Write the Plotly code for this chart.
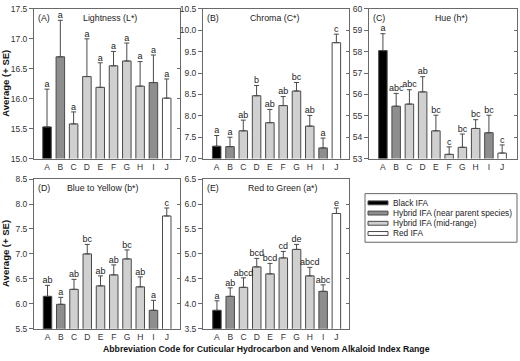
import plotly.graph_objects as go

categories = ["A", "B", "C", "D", "E", "F", "G", "H", "I", "J"]
group_of = ["Black IFA", "Hybrid IFA (near parent species)", "Hybrid IFA (mid-range)",
            "Hybrid IFA (mid-range)", "Hybrid IFA (mid-range)", "Hybrid IFA (mid-range)",
            "Hybrid IFA (mid-range)", "Hybrid IFA (mid-range)", "Hybrid IFA (near parent species)",
            "Red IFA"]
group_names = ["Black IFA", "Hybrid IFA (near parent species)", "Hybrid IFA (mid-range)", "Red IFA"]
group_colors = ["#000000", "#8e8e8e", "#d0d0d0", "#ffffff"]

lightness_mean = [15.53, 16.70, 15.58, 16.37, 16.19, 16.55, 16.63, 16.21, 16.27, 16.01]
lightness_se = [0.63, 0.61, 0.20, 0.63, 0.41, 0.24, 0.30, 0.41, 0.46, 0.32]
lightness_letters = ["a", "a", "a", "a", "a", "a", "a", "a", "a", "a"]

chroma_mean = [7.29, 7.28, 7.65, 8.47, 7.84, 8.24, 8.58, 7.76, 7.25, 9.71]
chroma_se = [0.25, 0.22, 0.25, 0.24, 0.31, 0.21, 0.20, 0.25, 0.23, 0.20]
chroma_letters = ["a", "a", "ab", "b", "ab", "ab", "bc", "ab", "a", "c"]

hue_mean = [58.05, 55.45, 55.55, 56.12, 54.30, 53.20, 53.53, 54.41, 54.21, 53.26]
hue_se = [0.79, 0.60, 0.67, 0.71, 0.73, 0.35, 0.62, 0.41, 0.82, 0.38]
hue_letters = ["a", "abc", "abc", "ab", "bc", "c", "bc", "bc", "bc", "c"]

b_mean = [6.15, 5.99, 6.29, 7.00, 6.36, 6.58, 6.90, 6.34, 5.87, 7.76]
b_se = [0.22, 0.14, 0.20, 0.19, 0.20, 0.20, 0.18, 0.20, 0.20, 0.16]
b_letters = ["ab", "a", "ab", "bc", "ab", "ab", "bc", "ab", "a", "c"]

a_mean = [3.87, 4.15, 4.33, 4.74, 4.60, 4.92, 5.09, 4.56, 4.25, 5.81]
a_se = [0.19, 0.17, 0.19, 0.17, 0.21, 0.13, 0.10, 0.17, 0.13, 0.11]
a_letters = ["a", "ab", "abcd", "bcd", "bcd", "cd", "de", "abcd", "abc", "e"]

panels = [
    dict(tag="(A)", title="Lightness (L*)", mean=lightness_mean, se=lightness_se, letters=lightness_letters,
         yrange=[15.0, 17.5], dtick=0.5, fmt=".1f", xd=[34, 180], yd=[4, 158], tx=0.52, xr=[-0.98, 10.0]),
    dict(tag="(B)", title="Chroma (C*)", mean=chroma_mean, se=chroma_se, letters=chroma_letters,
         yrange=[7.0, 10.5], dtick=0.5, fmt=".1f", xd=[203, 349], yd=[4, 158], tx=0.49, xr=[-1.03, 9.95]),
    dict(tag="(C)", title="Hue (h*)", mean=hue_mean, se=hue_se, letters=hue_letters,
         yrange=[53, 60], dtick=1, fmt="d", xd=[369, 517], yd=[4, 158], tx=0.56, xr=[-1.05, 10.12]),
    dict(tag="(D)", title="Blue to Yellow (b*)", mean=b_mean, se=b_se, letters=b_letters,
         yrange=[5.5, 8.5], dtick=0.5, fmt=".1f", xd=[34, 180], yd=[179, 333], tx=0.47, xr=[-1.02, 10.0]),
    dict(tag="(E)", title="Red to Green (a*)", mean=a_mean, se=a_se, letters=a_letters,
         yrange=[3.5, 6.5], dtick=0.5, fmt=".1f", xd=[203, 349], yd=[179, 333], tx=0.55, xr=[-1.05, 9.95]),
]

W, H = 520, 361
FONT = "Arial, Liberation Sans, sans-serif"
AXC = "#6a6a6a"
TXT = "#222222"
fig = go.Figure()
annotations = []
shapes = []


def px(x):
    return x / W


def py(y):
    return 1 - y / H


for i, p in enumerate(panels):
    n = i + 1
    xa = "x" if n == 1 else f"x{n}"
    ya = "y" if n == 1 else f"y{n}"
    yo_n = n + 5
    yo = f"y{yo_n}"
    for g, gname in enumerate(group_names):
        idx = [k for k in range(len(categories)) if group_of[k] == gname]
        fig.add_trace(go.Bar(
            x=[categories[k] for k in idx], y=[p["mean"][k] for k in idx],
            name=gname, showlegend=False,
            marker=dict(color=group_colors[g], line=dict(color="#4a4a4a", width=1)),
            error_y=dict(type="data", symmetric=False, array=[p["se"][k] for k in idx],
                         arrayminus=[0] * len(idx), color="#4a4a4a", thickness=1, width=2.5),
            width=0.64, xaxis=xa, yaxis=ya,
        ))
    fig.add_trace(go.Scatter(
        x=categories, y=[m + s for m, s in zip(p["mean"], p["se"])], text=p["letters"],
        mode="text", textposition="top center",
        textfont=dict(family=FONT, size=9, color=TXT),
        showlegend=False, hoverinfo="skip", xaxis=xa, yaxis=yo,
    ))
    xdom = [px(p["xd"][0]), px(p["xd"][1])]
    ydom = [py(p["yd"][1]), py(p["yd"][0])]
    xkey = "xaxis" if n == 1 else f"xaxis{n}"
    ykey = "yaxis" if n == 1 else f"yaxis{n}"
    fig.layout[xkey] = dict(domain=xdom, anchor=ya, range=p["xr"], type="category",
                            categoryorder="array", categoryarray=categories,
                            showline=True, linecolor=AXC, linewidth=1, mirror=True,
                            ticks="", showgrid=False, zeroline=False,
                            tickfont=dict(family=FONT, size=8.5, color="#333333"))
    fig.layout[ykey] = dict(domain=ydom, anchor=xa, range=p["yrange"], dtick=p["dtick"],
                            tick0=p["yrange"][0], tickformat=p["fmt"],
                            showline=True, linecolor=AXC, linewidth=1, mirror=True,
                            ticks="outside", ticklen=4, tickcolor=AXC, showgrid=False, zeroline=False,
                            tickfont=dict(family=FONT, size=8.5, color="#333333"))
    fig.layout[f"yaxis{yo_n}"] = dict(overlaying=ya, anchor=xa, side="right", range=p["yrange"],
                                      dtick=p["dtick"], tick0=p["yrange"][0],
                                      ticks="inside", ticklen=3, tickcolor=AXC,
                                      showticklabels=False, showgrid=False, zeroline=False,
                                      showline=False)
    annotations.append(dict(text=p["tag"], xref=f"{xa} domain", yref=f"{ya} domain",
                            x=0.015, y=0.985, xanchor="left", yanchor="top", showarrow=False,
                            font=dict(family=FONT, size=8.8, color=TXT)))
    annotations.append(dict(text=p["title"], xref=f"{xa} domain", yref=f"{ya} domain",
                            x=p["tx"], y=0.985, xanchor="center", yanchor="top", showarrow=False,
                            font=dict(family=FONT, size=8.8, color=TXT)))

annotations.append(dict(text="<b>Average (+ SE)</b>", xref="paper", yref="paper",
                        x=px(6), y=py(81), textangle=-90, showarrow=False,
                        xanchor="center", yanchor="middle",
                        font=dict(family=FONT, size=9.5, color="#111111")))
annotations.append(dict(text="<b>Average (+ SE)</b>", xref="paper", yref="paper",
                        x=px(6), y=py(256), textangle=-90, showarrow=False,
                        xanchor="center", yanchor="middle",
                        font=dict(family=FONT, size=9.5, color="#111111")))
annotations.append(dict(text="<b>Abbreviation Code for Cuticular Hydrocarbon and Venom Alkaloid Index Range</b>",
                        xref="paper", yref="paper", x=px(266), y=py(354), showarrow=False,
                        xanchor="center", yanchor="middle",
                        font=dict(family=FONT, size=8.7, color="#111111")))

# legend box (drawn by hand to match the flat swatches of the reference)
shapes.append(dict(type="rect", xref="paper", yref="paper", x0=px(365), x1=px(517),
                   y0=py(244), y1=py(194), line=dict(color="#666666", width=1), fillcolor="white"))
legend_rows = [203.5, 214, 224.5, 235]
for g, gname in enumerate(group_names):
    yc = legend_rows[g]
    shapes.append(dict(type="rect", xref="paper", yref="paper", x0=px(368), x1=px(388),
                       y0=py(yc + 2), y1=py(yc - 2), line=dict(color="#4a4a4a", width=1),
                       fillcolor=group_colors[g]))
    annotations.append(dict(text=gname, xref="paper", yref="paper", x=px(391), y=py(yc),
                            xanchor="left", yanchor="middle", showarrow=False,
                            font=dict(family=FONT, size=8.3, color=TXT)))

fig.update_layout(
    width=W, height=H, margin=dict(l=0, r=0, t=0, b=0),
    paper_bgcolor="white", plot_bgcolor="white",
    barmode="overlay", annotations=annotations, shapes=shapes,
    showlegend=False,
    font=dict(family=FONT),
)

fig.write_html("out.html", config={"displayModeBar": False},
               post_script="document.body.style.margin='0';document.body.style.overflow='hidden';")
